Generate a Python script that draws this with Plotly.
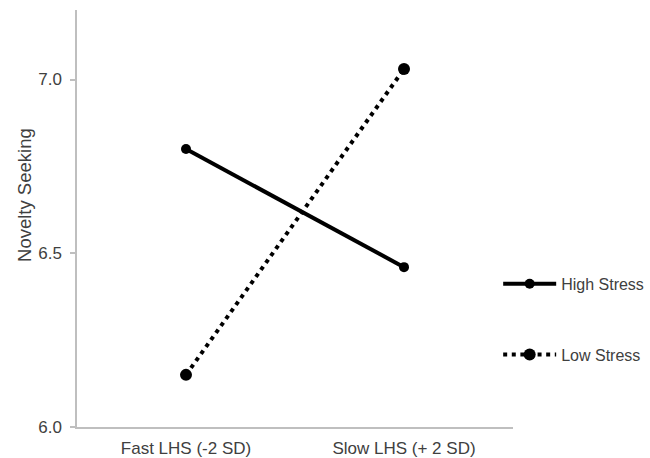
import plotly.graph_objects as go

# Life-history strategy levels on the x axis
categories = ["Fast LHS (-2 SD)", "Slow LHS (+ 2 SD)"]

# Predicted novelty seeking at each LHS level, by stress condition
high_stress = [6.80, 6.46]
low_stress = [6.15, 7.03]

y_ticks = [6.0, 6.5, 7.0]

TEXT = "#404040"
AXIS = "#bfbfbf"
FONT = "Liberation Sans, Arial, sans-serif"

fig = go.Figure()

fig.add_trace(go.Scatter(
    x=categories, y=high_stress, name="High Stress",
    mode="lines+markers", legendgroup="high",
    line=dict(color="black", width=4),
    marker=dict(symbol="circle", size=10, color="black"),
))

fig.add_trace(go.Scatter(
    x=categories, y=low_stress, name="Low Stress",
    mode="lines+markers", legendgroup="low",
    line=dict(color="black", width=4, dash="4px,4.6px"),
    marker=dict(symbol="circle", size=12, color="black"),
))

fig.update_layout(
    width=650, height=458,
    margin=dict(l=77, r=137, t=10, b=31, autoexpand=False),
    plot_bgcolor="white", paper_bgcolor="white",
    font=dict(family=FONT, size=17, color=TEXT),
    showlegend=True,
    legend=dict(
        x=0.966, y=0.384, xanchor="left", yanchor="top",
        traceorder="grouped", tracegroupgap=47,
        itemwidth=53, font=dict(size=16, color=TEXT),
        bgcolor="rgba(0,0,0,0)",
    ),
    xaxis=dict(
        type="category", categoryarray=categories, categoryorder="array",
        range=[-0.5, 1.5], showgrid=False, zeroline=False,
        showline=True, linecolor=AXIS, linewidth=1.5,
        ticks="", automargin=False, ticklabelstandoff=5,
        tickfont=dict(size=17, color=TEXT),
    ),
    yaxis=dict(
        range=[6.0, 7.2], tickvals=y_ticks, ticktext=[f"{v:.1f}" for v in y_ticks],
        showgrid=False, zeroline=False,
        showline=True, linecolor=AXIS, linewidth=1.5,
        ticks="outside", ticklen=5, tickcolor=AXIS, tickwidth=1.5,
        automargin=False, ticklabelstandoff=5,
        tickfont=dict(size=17, color=TEXT),
    ),
    annotations=[dict(
        text="Novelty Seeking", textangle=-90,
        xref="paper", yref="paper", x=-0.122, y=0.556,
        xanchor="center", yanchor="middle", showarrow=False,
        font=dict(size=18.5, color=TEXT),
    )],
)

fig.write_html("out.html")
